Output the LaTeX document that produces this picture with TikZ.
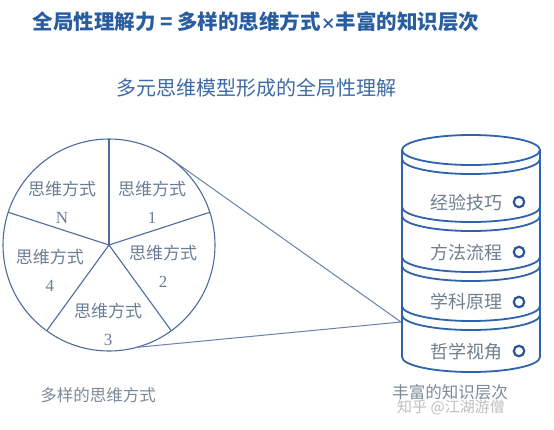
\documentclass[tikz,border=0pt]{standalone}
\usepackage{fontspec}
\setmainfont{Liberation Serif}
\newfontfamily\cjk{Noto Sans CJK SC}
\usetikzlibrary{calc}
\definecolor{titleblue}{HTML}{2A5D9F}
\definecolor{subblue}{HTML}{3C6BA5}
\definecolor{pieline}{HTML}{4D6C9C}
\definecolor{pietext}{HTML}{6B7E96}
\definecolor{cylline}{HTML}{2F63AD}
\definecolor{cyltext}{HTML}{717E8E}
\definecolor{dotblue}{HTML}{2A5599}
\definecolor{labgray}{HTML}{7D8A99}
\definecolor{wmgray}{HTML}{B8B8B8}
\tikzset{
  pielab/.style={align=center, text=pietext, font=\fontsize{17}{28}\selectfont, inner sep=0pt},
  cyllab/.style={text=cyltext, font=\cjk\fontsize{18}{18}\selectfont, inner sep=0pt},
  cylstroke/.style={draw=cylline, line width=1.8pt},
  dotmark/.style={circle, draw=dotblue, line width=2.2pt, minimum size=10.5pt, inner sep=0pt},
  botlab/.style={text=labgray, font=\cjk\fontsize{16.5}{16.5}\selectfont, inner sep=0pt},
}
\begin{document}
\begin{tikzpicture}[x=1pt,y=1pt]
\useasboundingbox (0,0) rectangle (554,-429);
\fill[white] (0,0) rectangle (554,-429);

% titles
\node[text=titleblue, font=\cjk\bfseries\fontsize{20.5}{20.5}\selectfont, inner sep=0pt] (title) at (256,-22) {全局性理解力 = 多样的思维方式{\fontsize{15}{15}\selectfont ×}丰富的知识层次};
\node[text=subblue, font=\cjk\fontsize{20}{20}\selectfont, inner sep=0pt] (subtitle) at (256,-88) {多元思维模型形成的全局性理解};

% pie
\coordinate (pc) at (109,-245);
\draw[pieline, line width=1.1pt] (pc) circle[radius=106];
\foreach \a in {90,18,-54,-126,162} {
  \draw[pieline, line width=1.1pt] (pc) -- ++(\a:106);
}
\node[pielab] (mN) at (62,-202) {{\cjk 思维方式}\\N};
\node[pielab] (m1) at (152,-202) {{\cjk 思维方式}\\1};
\node[pielab] (m2) at (163,-266) {{\cjk 思维方式}\\2};
\node[pielab] (m4) at (50,-270) {{\cjk 思维方式}\\4};
\node[pielab] (m3) at (108,-324) {{\cjk 思维方式}\\3};

% connectors
\path (pc) ++(56:106) coordinate (p1);
\path (pc) ++(-75:106) coordinate (p2);
\coordinate (tg) at (401,-322);
\draw[pieline!85, line width=1pt] (p1) -- (tg) -- (p2);

% cylinder
\def\cx{471}
\def\rx{69}
\def\ry{15}
\fill[white] (402,-150) -- (402,-357) arc[start angle=180, end angle=360, x radius=\rx, y radius=\ry] -- (540,-150) -- cycle;
\draw[cylstroke] (\cx,-150) ellipse[x radius=\rx, y radius=\ry];
\draw[cylstroke] (402,-150) -- (402,-357);
\draw[cylstroke] (540,-150) -- (540,-357);
\foreach \c in {159,207,216,257,266,306,315,357} {
  \draw[cylstroke] (402,-\c) arc[start angle=180, end angle=360, x radius=\rx, y radius=\ry];
}
\node[cyllab] (k1) at (466,-203) {经验技巧};
\node[cyllab] (k2) at (466,-253) {方法流程};
\node[cyllab] (k3) at (466,-302) {学科原理};
\node[cyllab] (k4) at (466,-352) {哲学视角};
\node[dotmark] (d1) at (519,-202) {};
\node[dotmark] (d2) at (519,-252) {};
\node[dotmark] (d3) at (519,-302) {};
\node[dotmark] (d4) at (519,-351) {};

% bottom labels
\node[botlab] (lb1) at (98,-395) {多样的思维方式};
\node[botlab] (lb2) at (450,-392) {丰富的知识层次};
\node[text=wmgray, font=\cjk\fontsize{15}{15}\selectfont, inner sep=0pt, opacity=0.9] (wm) at (451,-407) {知乎 @江湖游僧};
\end{tikzpicture}
\end{document}
